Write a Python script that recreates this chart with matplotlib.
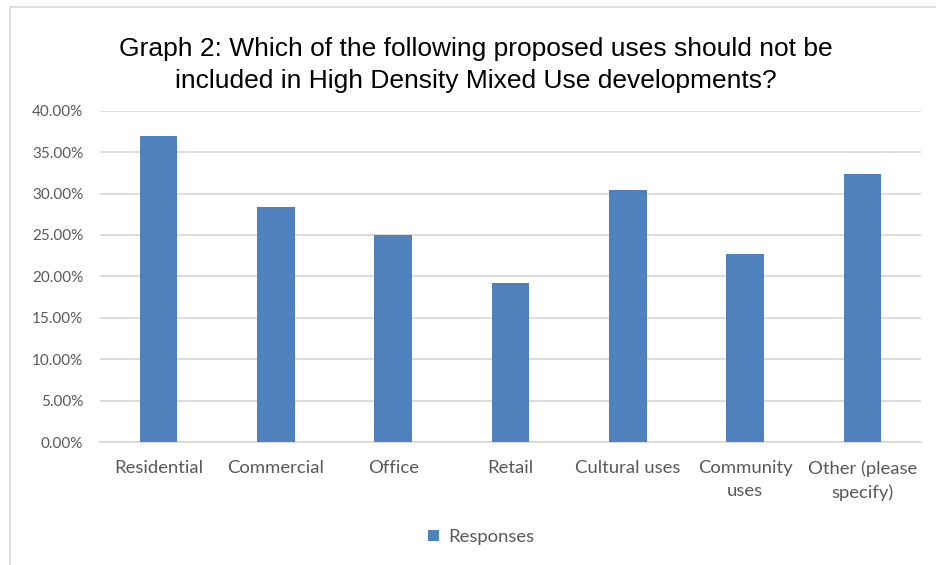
import matplotlib
matplotlib.use("Agg")
import matplotlib.pyplot as plt
from matplotlib.patches import Rectangle
from matplotlib.ticker import FuncFormatter, MultipleLocator

categories = ["Residential", "Commercial", "Office", "Retail", "Cultural uses",
              "Community\nuses", "Other (please\nspecify)"]
responses = [36.9, 28.35, 25.0, 19.15, 30.4, 22.65, 32.3]
series_name = "Responses"
title = "Graph 2: Which of the following proposed uses should not be\nincluded in High Density Mixed Use developments?"

W, H = 936, 565
fig = plt.figure(figsize=(W / 100, H / 100), dpi=100)
fig.patch.set_facecolor("white")
# outer chart border (only left/top visible in reference)
fig.add_artist(Rectangle((10 / W, -0.05), 1.2, 1 - 7 / H + 0.05, transform=fig.transFigure,
                         fill=False, edgecolor="#d9d9d9", linewidth=1.2))

ax = fig.add_axes([100 / W, 1 - 442 / H, (921 - 100) / W, (442 - 110.7) / H])
x = list(range(len(categories)))
ax.bar(x, responses, width=0.32, color="#4f81bd", label=series_name, zorder=3)
ax.set_xlim(-0.5, len(categories) - 0.5)
ax.set_ylim(0, 40)
ax.yaxis.set_major_locator(MultipleLocator(5))
ax.yaxis.set_major_formatter(FuncFormatter(lambda v, p: f"{v:.2f}%"))
ax.grid(axis="y", color="#d9d9d9", linewidth=1.3, zorder=0)
for s in ["top", "right", "left"]:
    ax.spines[s].set_visible(False)
ax.spines["bottom"].set_color("#d9d9d9")
ax.spines["bottom"].set_linewidth(1.3)
ax.set_xticks(x)
ax.set_xticklabels(categories, fontfamily="Lato", fontsize=13.3, color="#595959", linespacing=1.55)
for lab in ax.get_yticklabels():
    lab.set_fontfamily("Lato")
    lab.set_fontsize(11)
    lab.set_color("#595959")
ax.tick_params(axis="both", length=0)
ax.tick_params(axis="x", pad=13)
ax.tick_params(axis="y", pad=12)

fig.text(476 / W, 1 - 65 / H, title, ha="center", va="center", fontsize=19,
         fontfamily="Liberation Sans", color="black", linespacing=1.45)

leg = fig.legend(loc="center", bbox_to_anchor=(481 / W, 1 - 537 / H), frameon=False,
                 prop={"family": "Lato", "size": 13.3}, handlelength=0.6, handleheight=0.6,
                 handletextpad=0.5)
for t in leg.get_texts():
    t.set_color("#595959")

fig.savefig("out.png", dpi=100, facecolor="white")
